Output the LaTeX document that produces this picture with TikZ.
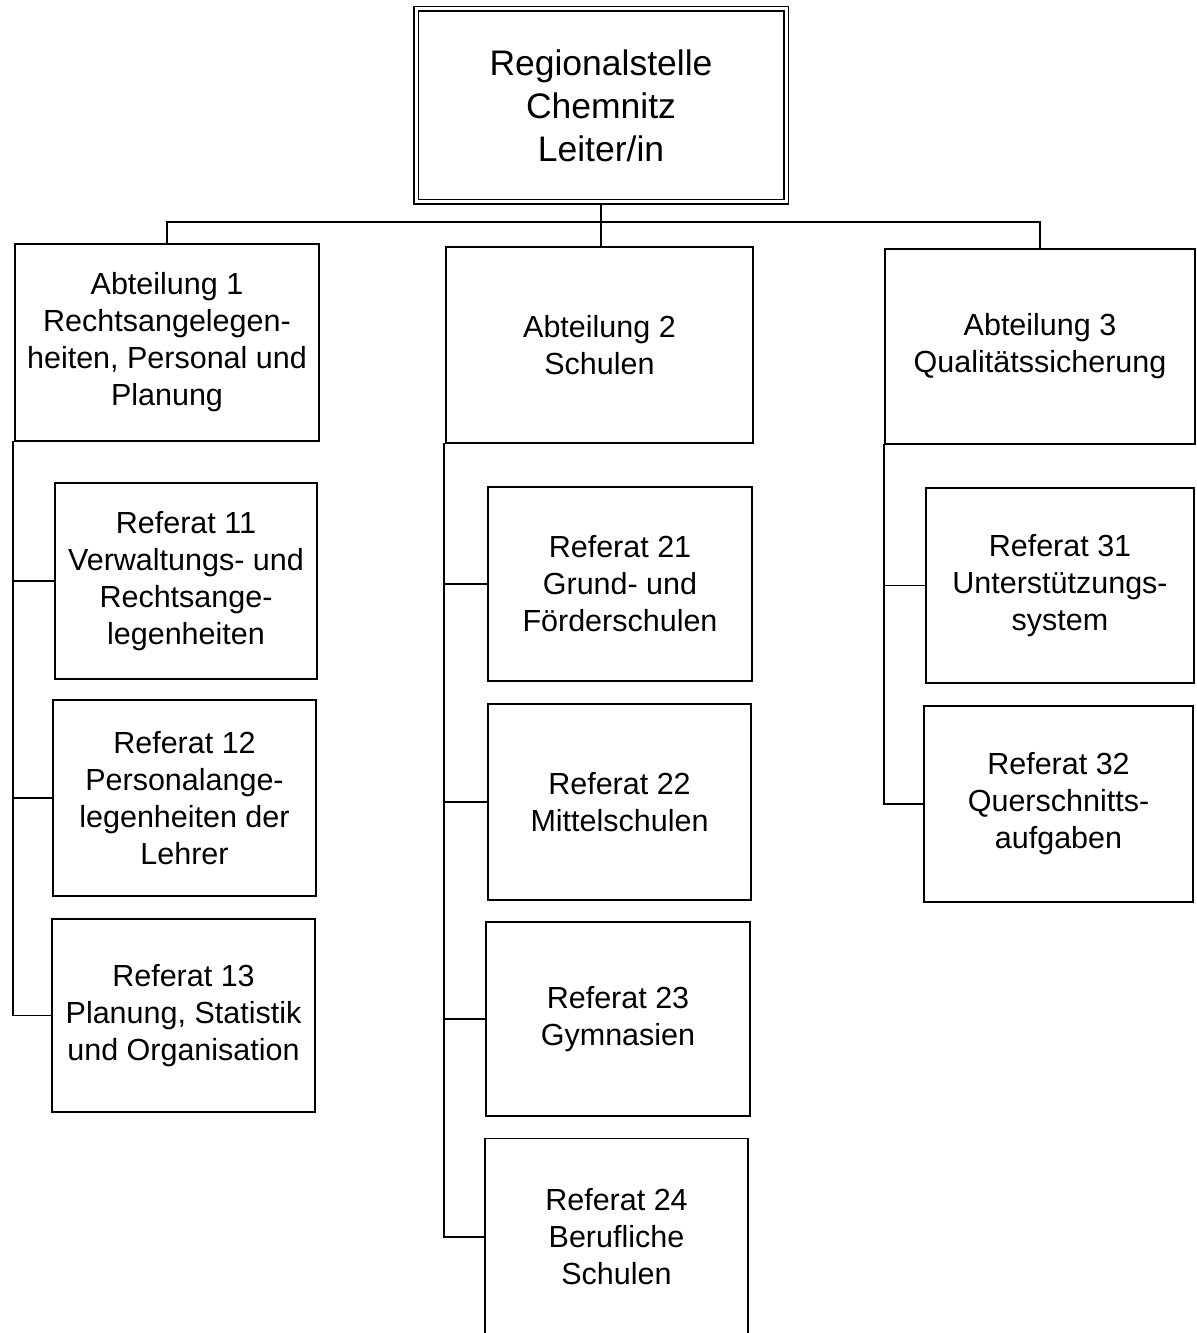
\documentclass[tikz,border=0pt]{standalone}
\usepackage{fontspec}
\setmainfont{Liberation Sans}
\begin{document}
\begin{tikzpicture}[x=1bp,y=-1bp,
  box/.style={draw, line width=1.5bp, inner sep=0pt, align=center, anchor=center,
    font=\fontsize{30.5bp}{37bp}\selectfont},
  headbox/.style={draw, double, double distance=3bp, line width=1.2bp, inner sep=0pt,
    align=center, anchor=center, font=\fontsize{35.5bp}{43bp}\selectfont,
    minimum width=370bp, minimum height=193bp},
  link/.style={line width=1.5bp}]
\useasboundingbox (0,0) rectangle (1196,1333);

\node[headbox] (top) at (601,105.5) {Regionalstelle\\Chemnitz\\Leiter/in};

\node[box, minimum width=304bp, minimum height=197bp] (abt1) at (167,342.5)
  {Abteilung 1\\Rechtsangelegen-\\heiten, Personal und\\Planung};
\node[box, minimum width=307bp, minimum height=196bp] (abt2) at (599.5,345)
  {Abteilung 2\\Schulen};
\node[box, minimum width=310bp, minimum height=195bp] (abt3) at (1040,346.5)
  {Abteilung 3\\Qualitätssicherung};

\node[box, minimum width=262bp, minimum height=196bp] (r11) at (186,581)
  {Referat 11\\Verwaltungs- und\\Rechtsange-\\legenheiten};
\node[box, minimum width=263bp, minimum height=196bp] (r12) at (184.5,798)
  {Referat 12\\Personalange-\\legenheiten der\\Lehrer};
\node[box, minimum width=263bp, minimum height=193bp] (r13) at (183.5,1015.5)
  {Referat 13\\Planung, Statistik\\und Organisation};

\node[box, minimum width=264bp, minimum height=194bp] (r21) at (620,584)
  {Referat 21\\Grund- und\\Förderschulen};
\node[box, minimum width=263bp, minimum height=196bp] (r22) at (619.5,802)
  {Referat 22\\Mittelschulen};
\node[box, minimum width=264bp, minimum height=194bp] (r23) at (618,1019)
  {Referat 23\\Gymnasien};
\node[box, minimum width=263bp, minimum height=197bp] (r24) at (616.5,1237)
  {Referat 24\\Berufliche\\Schulen};

\node[box, minimum width=268bp, minimum height=195bp] (r31) at (1060,585.5)
  {Referat 31\\Unterstützungs-\\system};
\node[box, minimum width=269bp, minimum height=196bp] (r32) at (1058.5,804)
  {Referat 32\\Querschnitts-\\aufgaben};

% bus
\coordinate (bus) at (600,222);
\draw[link] (top.south) -- (top.south |- abt2.north);
\draw[link] (abt1.north) |- (bus) -| (abt3.north);

% spines
\coordinate (s1) at (13,441);
\coordinate (s2) at (444,443);
\coordinate (s3) at (884,444);

\draw[link] (s1) |- (r13.west);
\draw[link] (r11.west) -- (r11.west -| s1);
\draw[link] (r12.west) -- (r12.west -| s1);

\draw[link] (s2) |- (r24.west);
\draw[link] (r21.west) -- (r21.west -| s2);
\draw[link] (r22.west) -- (r22.west -| s2);
\draw[link] (r23.west) -- (r23.west -| s2);

\draw[link] (s3) |- (r32.west);
\draw[link] (r31.west) -- (r31.west -| s3);
\end{tikzpicture}
\end{document}
